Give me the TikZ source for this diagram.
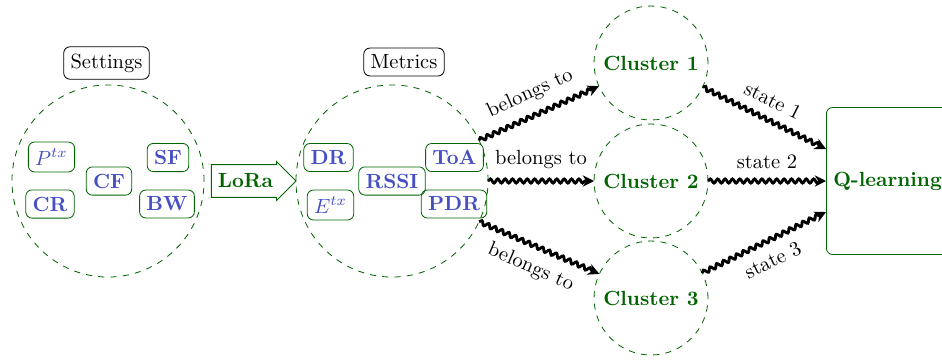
\documentclass[tikz,border=0pt]{standalone}
\usetikzlibrary{shapes.arrows,decorations.pathmorphing,arrows.meta,calc}
\definecolor{dgreen}{RGB}{0,100,0}
\definecolor{pblue}{RGB}{70,80,195}
\begin{document}
\begin{tikzpicture}[x=0.4878pt,y=-0.4878pt,
  lbl/.style={draw=black,rounded corners=3pt},
  par/.style={draw=dgreen,rounded corners=3pt,text=pblue,font=\bfseries},
  grp/.style={circle,draw=dgreen,dashed,minimum size=93.7pt,inner sep=0pt,outer sep=0pt},
  clu/.style={circle,draw=dgreen,dashed,minimum size=55.6pt,inner sep=0pt,outer sep=0pt,text=dgreen,font=\bfseries},
  wav/.style={line width=1.4pt,-{Stealth[length=5.5pt,width=5.5pt]},decorate,decoration={snake,amplitude=1pt,segment length=3.6pt,post length=3pt}},
  lab/.style={sloped}]
\useasboundingbox (0,0) rectangle (942,363);
% Settings
\node[lbl] (set) at (106.5,63) {Settings};
\node[grp] (sc) at (108,181) {};
\node[par] (ptx) at (51.5,157) {$P^{tx}$};
\node[par] (cr) at (50,204) {CR};
\node[par] (cf) at (109,181) {CF};
\node[par] (sf) at (168,157.5) {SF};
\node[par] (bw) at (167,204) {BW};
% LoRa arrow
\node[single arrow,draw=dgreen,text=dgreen,font=\bfseries,inner xsep=3pt,inner ysep=4.3pt,single arrow head extend=1.5pt] (lora) at (245.5,181) {LoRa};
% Metrics
\node[lbl] (met) at (404,62) {Metrics};
\node[grp] (mc) at (392,181) {};
\node[par] (dr) at (328.5,157.5) {DR};
\node[par] (etx) at (330.5,205) {$E^{tx}$};
\node[par] (rssi) at (392,181) {RSSI};
\node[par] (toa) at (454.5,157.5) {ToA};
\node[par] (pdr) at (454,204) {PDR};
% Clusters
\node[clu] (c1) at (651,63) {Cluster 1};
\node[clu] (c2) at (651,181) {Cluster 2};
\node[clu] (c3) at (651,298) {Cluster 3};
% Q-learning
\node[draw=dgreen,rounded corners=3pt,text=dgreen,font=\bfseries,minimum height=71.7pt,anchor=west] (q) at (826,181) {Q-learning};
% connectors
\draw[wav] (mc.25) -- node[lab,above=2pt]{belongs to} (c1.204);
\draw[wav] (mc.east) -- node[lab,above=2pt]{belongs to} (c2.west);
\draw[wav] (mc.-25) -- node[lab,below=2pt]{belongs to} (c3.155);
\draw[wav] (c1.-25) -- node[lab,above=2pt]{state 1} ($(q.west)+(0,-32)$);
\draw[wav] (c2.east) -- node[lab,above=2pt]{state 2} (q.west);
\draw[wav] (c3.26) -- node[lab,below=2pt]{state 3} ($(q.west)+(0,31)$);
\end{tikzpicture}
\end{document}
